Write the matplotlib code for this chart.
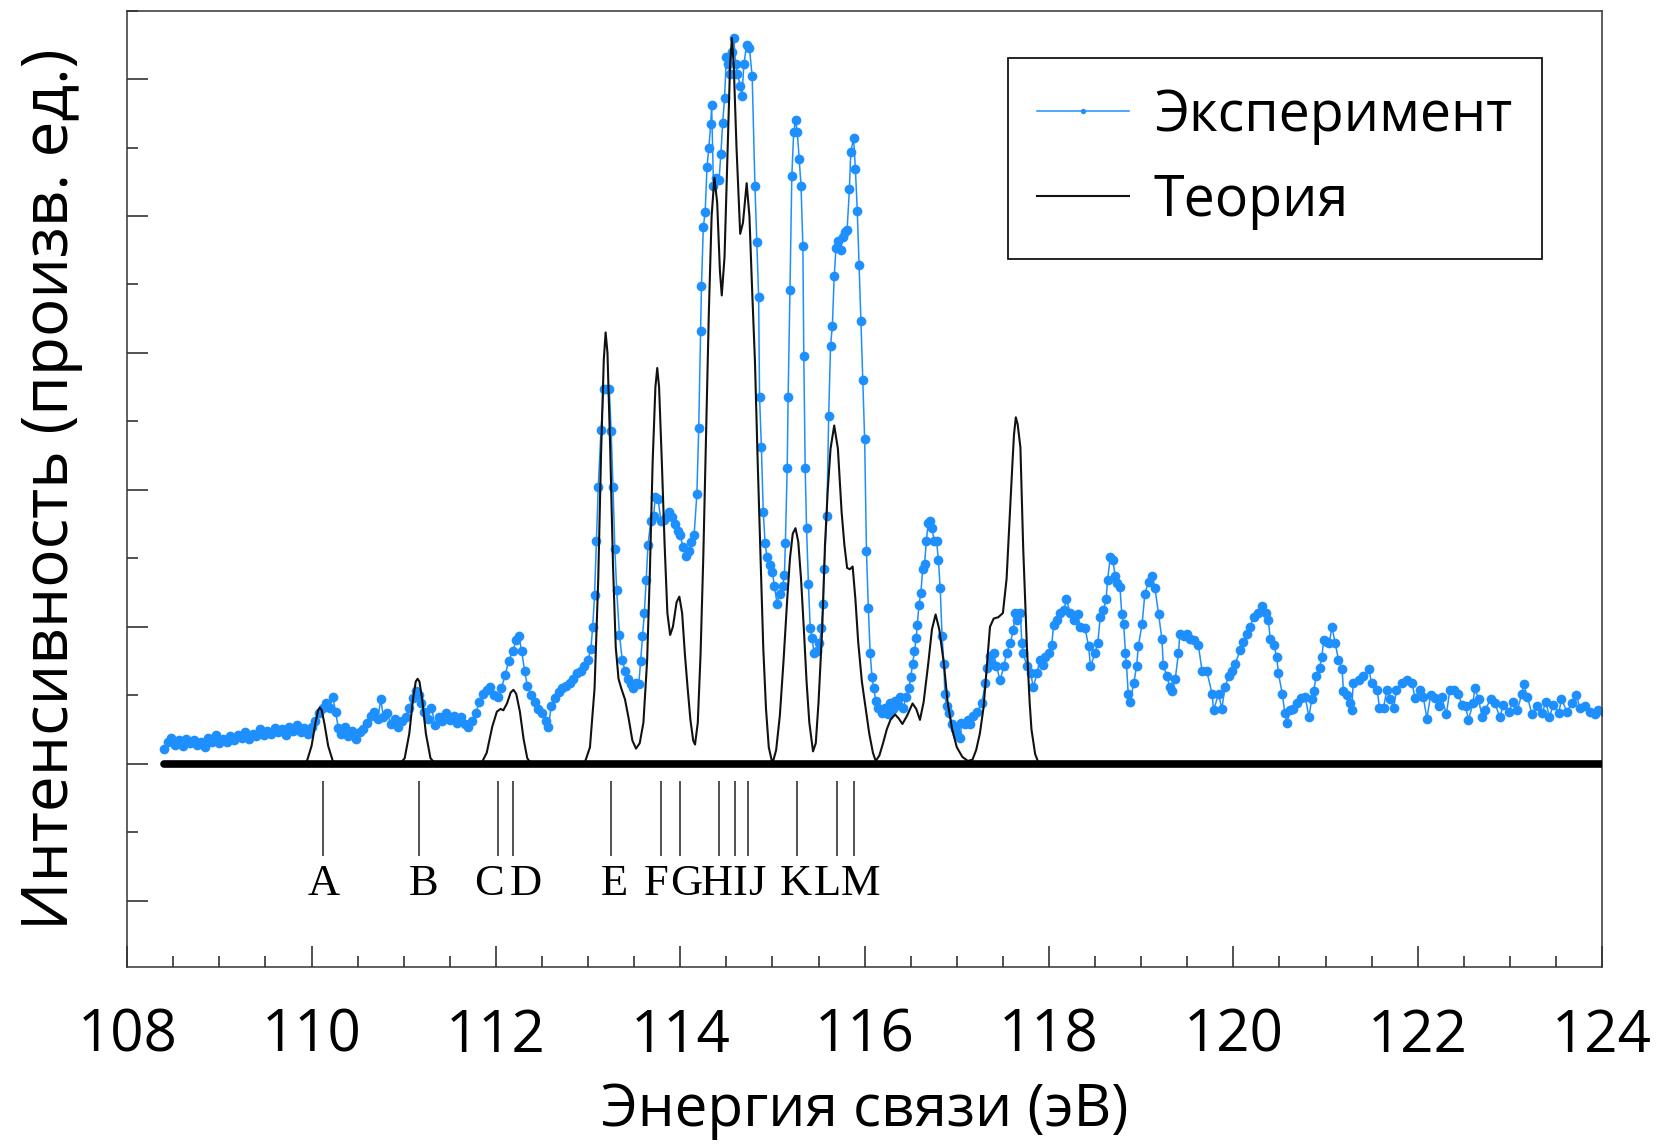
import matplotlib

matplotlib.use("Agg")
import matplotlib.pyplot as plt
import numpy as np
from matplotlib.ticker import MultipleLocator

plt.rcParams["font.family"] = ["Open Sans", "DejaVu Sans"]

# experimental spectrum (binding energy, eV / intensity, arb. units)
exp_energy = [
    108.40, 108.44, 108.48, 108.52, 108.56, 108.60, 108.64, 108.68, 108.72, 108.76,
    108.80, 108.84, 108.88, 108.92, 108.96, 109.00, 109.04, 109.08, 109.12, 109.16,
    109.20, 109.24, 109.28, 109.32, 109.36, 109.40, 109.44, 109.48, 109.52, 109.56,
    109.60, 109.64, 109.68, 109.72, 109.76, 109.80, 109.84, 109.88, 109.92, 109.96,
    110.00, 110.04, 110.08, 110.12, 110.16, 110.20, 110.23, 110.26, 110.29, 110.32,
    110.36, 110.40, 110.44, 110.48, 110.52, 110.56, 110.60, 110.64, 110.68, 110.72,
    110.75, 110.78, 110.82, 110.86, 110.90, 110.94, 110.98, 111.02, 111.06, 111.10,
    111.13, 111.16, 111.19, 111.22, 111.26, 111.30, 111.34, 111.38, 111.42, 111.46,
    111.50, 111.54, 111.58, 111.62, 111.66, 111.70, 111.74, 111.78, 111.82, 111.86,
    111.90, 111.94, 111.98, 112.02, 112.06, 112.10, 112.14, 112.18, 112.22, 112.25,
    112.28, 112.31, 112.34, 112.38, 112.42, 112.46, 112.50, 112.54, 112.57, 112.60,
    112.64, 112.68, 112.72, 112.76, 112.80, 112.84, 112.88, 112.92, 112.96, 113.00,
    113.03, 113.05, 113.07, 113.09, 113.11, 113.14, 113.17, 113.20, 113.23, 113.25,
    113.27, 113.29, 113.31, 113.34, 113.37, 113.40, 113.43, 113.46, 113.49, 113.52,
    113.55, 113.57, 113.59, 113.61, 113.63, 113.65, 113.68, 113.71, 113.73, 113.76,
    113.79, 113.82, 113.85, 113.88, 113.91, 113.94, 113.97, 114.00, 114.03, 114.06,
    114.09, 114.12, 114.15, 114.18, 114.20, 114.22, 114.23, 114.25, 114.27, 114.29,
    114.31, 114.33, 114.34, 114.36, 114.39, 114.42, 114.44, 114.46, 114.48, 114.50,
    114.52, 114.54, 114.56, 114.58, 114.60, 114.62, 114.65, 114.67, 114.69, 114.72,
    114.75, 114.78, 114.81, 114.83, 114.85, 114.86, 114.88, 114.90, 114.92, 114.94,
    114.97, 115.00, 115.02, 115.05, 115.08, 115.11, 115.13, 115.14, 115.16, 115.17,
    115.19, 115.21, 115.23, 115.25, 115.27, 115.29, 115.31, 115.33, 115.34, 115.355,
    115.37, 115.39, 115.41, 115.43, 115.45, 115.48, 115.51, 115.53, 115.55, 115.56,
    115.59, 115.61, 115.63, 115.65, 115.67, 115.69, 115.715, 115.74, 115.76, 115.79,
    115.81, 115.835, 115.85, 115.88, 115.90, 115.92, 115.94, 115.96, 115.98, 116.00,
    116.02, 116.04, 116.06, 116.08, 116.10, 116.12, 116.15, 116.19, 116.22, 116.25,
    116.28, 116.31, 116.33, 116.36, 116.38, 116.42, 116.45, 116.48, 116.50, 116.52,
    116.54, 116.56, 116.57, 116.59, 116.61, 116.63, 116.65, 116.67, 116.69, 116.71,
    116.73, 116.755, 116.78, 116.80, 116.82, 116.84, 116.86, 116.87, 116.89, 116.91,
    116.95, 116.98, 117.00, 117.04, 117.05, 117.09, 117.12, 117.14, 117.18, 117.22,
    117.27, 117.31, 117.33, 117.36, 117.38, 117.40, 117.43, 117.47, 117.51, 117.54,
    117.58, 117.615, 117.63, 117.65, 117.69, 117.705, 117.72, 117.76, 117.80, 117.83,
    117.87, 117.90, 117.93, 117.96, 117.995, 118.03, 118.05, 118.085, 118.12, 118.16,
    118.19, 118.23, 118.27, 118.31, 118.34, 118.39, 118.43, 118.45, 118.50, 118.53,
    118.555, 118.59, 118.62, 118.635, 118.665, 118.69, 118.72, 118.735, 118.77, 118.79,
    118.81, 118.83, 118.84, 118.86, 118.88, 118.92, 118.95, 118.97, 119.01, 119.04,
    119.08, 119.12, 119.15, 119.19, 119.225, 119.24, 119.28, 119.31, 119.33, 119.37,
    119.405, 119.42, 119.46, 119.495, 119.53, 119.57, 119.62, 119.66, 119.71, 119.77,
    119.785, 119.84, 119.875, 119.91, 119.95, 119.985, 120.02, 120.075, 120.11, 120.15,
    120.18, 120.22, 120.27, 120.31, 120.35, 120.38, 120.40, 120.44, 120.47, 120.49,
    120.53, 120.56, 120.58, 120.62, 120.65, 120.69, 120.73, 120.78, 120.82, 120.85,
    120.87, 120.90, 120.935, 120.96, 120.98, 121.015, 121.04, 121.07, 121.105, 121.14,
    121.18, 121.195, 121.23, 121.27, 121.285, 121.30, 121.36, 121.41, 121.47, 121.50,
    121.56, 121.585, 121.63, 121.665, 121.70, 121.74, 121.77, 121.83, 121.88, 121.94,
    121.97, 122.03, 122.06, 122.10, 122.14, 122.19, 122.23, 122.26, 122.31, 122.35,
    122.39, 122.44, 122.48, 122.52, 122.55, 122.60, 122.62, 122.66, 122.70, 122.73,
    122.79, 122.84, 122.89, 122.93, 122.99, 123.03, 123.08, 123.13, 123.15, 123.19,
    123.24, 123.29, 123.35, 123.39, 123.43, 123.47, 123.53, 123.56, 123.62, 123.67,
    123.72, 123.76, 123.82, 123.87, 123.92, 123.96, 124.02,
]
exp_intensity = [
    0.11, 0.16, 0.19, 0.14, 0.17, 0.13, 0.18, 0.15, 0.17, 0.14,
    0.16, 0.12, 0.19, 0.16, 0.21, 0.15, 0.18, 0.16, 0.20, 0.17,
    0.21, 0.19, 0.23, 0.18, 0.22, 0.20, 0.25, 0.21, 0.24, 0.22,
    0.26, 0.23, 0.25, 0.21, 0.27, 0.24, 0.28, 0.23, 0.26, 0.22,
    0.27, 0.31, 0.37, 0.41, 0.44, 0.41, 0.49, 0.38, 0.26, 0.22,
    0.27, 0.20, 0.24, 0.18, 0.23, 0.25, 0.30, 0.35, 0.38, 0.33,
    0.47, 0.34, 0.37, 0.29, 0.33, 0.27, 0.31, 0.34, 0.41, 0.48,
    0.53, 0.50, 0.44, 0.38, 0.33, 0.41, 0.28, 0.34, 0.31, 0.37,
    0.32, 0.35, 0.30, 0.34, 0.29, 0.27, 0.31, 0.37, 0.45, 0.51,
    0.54, 0.56, 0.50, 0.49, 0.55, 0.65, 0.75, 0.82, 0.90, 0.93,
    0.82, 0.68, 0.57, 0.50, 0.45, 0.40, 0.37, 0.31, 0.27, 0.42,
    0.48, 0.52, 0.55, 0.57, 0.59, 0.62, 0.66, 0.68, 0.71, 0.76,
    0.84, 1.00, 1.23, 1.63, 2.02, 2.44, 2.74, 2.74, 2.74, 2.43,
    2.02, 1.57, 1.27, 0.94, 0.76, 0.68, 0.62, 0.58, 0.55, 0.59,
    0.58, 0.75, 0.93, 1.10, 1.34, 1.60, 1.77, 1.81, 1.95, 1.93,
    1.77, 1.78, 1.80, 1.84, 1.80, 1.75, 1.70, 1.67, 1.58, 1.52,
    1.55, 1.62, 1.67, 1.97, 2.45, 3.16, 3.49, 3.92, 4.03, 4.36,
    4.50, 4.67, 4.81, 4.22, 4.28, 4.26, 4.45, 4.68, 4.86, 5.16,
    5.11, 5.04, 5.20, 5.30, 5.11, 5.04, 4.95, 4.88, 5.11, 5.25,
    5.23, 5.02, 4.22, 3.81, 3.41, 2.68, 2.31, 1.84, 1.61, 1.51,
    1.45, 1.40, 1.30, 1.17, 1.24, 1.30, 1.38, 1.61, 2.16, 2.68,
    3.46, 4.29, 4.61, 4.70, 4.61, 4.42, 4.22, 3.78, 2.98, 2.16,
    1.72, 1.31, 0.99, 0.92, 0.81, 0.82, 0.88, 0.99, 1.17, 1.42,
    1.81, 2.54, 3.05, 3.20, 3.56, 3.77, 3.82, 3.75, 3.85, 3.88,
    3.90, 4.20, 4.47, 4.57, 4.34, 4.04, 3.64, 3.23, 2.80, 2.37,
    1.55, 1.14, 0.81, 0.63, 0.55, 0.46, 0.41, 0.37, 0.41, 0.36,
    0.44, 0.40, 0.46, 0.43, 0.49, 0.41, 0.49, 0.55, 0.63, 0.73,
    0.82, 0.92, 1.01, 1.16, 1.25, 1.42, 1.46, 1.63, 1.76, 1.77,
    1.72, 1.63, 1.63, 1.49, 1.28, 0.93, 0.73, 0.51, 0.42, 0.37,
    0.29, 0.25, 0.22, 0.19, 0.30, 0.29, 0.32, 0.29, 0.35, 0.38,
    0.44, 0.59, 0.70, 0.79, 0.73, 0.81, 0.71, 0.61, 0.71, 0.81,
    0.88, 0.98, 1.10, 1.05, 1.10, 0.88, 0.81, 0.71, 0.66, 0.56,
    0.66, 0.76, 0.72, 0.78, 0.81, 0.87, 1.01, 1.05, 1.10, 1.12,
    1.20, 1.10, 1.05, 1.09, 1.00, 0.99, 0.86, 0.71, 0.81, 0.88,
    1.07, 1.12, 1.20, 1.34, 1.51, 1.49, 1.37, 1.32, 1.29, 1.09,
    1.02, 0.81, 0.73, 0.51, 0.45, 0.59, 0.71, 0.86, 1.02, 1.24,
    1.33, 1.37, 1.28, 1.09, 0.91, 0.72, 0.64, 0.56, 0.53, 0.62,
    0.81, 0.95, 0.93, 0.95, 0.91, 0.90, 0.87, 0.68, 0.68, 0.51,
    0.39, 0.51, 0.40, 0.56, 0.64, 0.68, 0.73, 0.83, 0.89, 0.95,
    1.00, 1.07, 1.10, 1.15, 1.10, 1.05, 0.91, 0.87, 0.78, 0.66,
    0.51, 0.37, 0.30, 0.39, 0.40, 0.44, 0.48, 0.49, 0.34, 0.47,
    0.53, 0.64, 0.70, 0.78, 0.90, 0.89, 0.88, 1.00, 0.88, 0.76,
    0.69, 0.53, 0.50, 0.44, 0.39, 0.59, 0.61, 0.64, 0.69, 0.59,
    0.54, 0.41, 0.41, 0.54, 0.47, 0.41, 0.54, 0.59, 0.61, 0.59,
    0.48, 0.54, 0.49, 0.33, 0.50, 0.48, 0.42, 0.49, 0.36, 0.54,
    0.54, 0.51, 0.43, 0.42, 0.32, 0.44, 0.55, 0.47, 0.34, 0.39,
    0.47, 0.44, 0.34, 0.43, 0.38, 0.45, 0.39, 0.51, 0.58, 0.49,
    0.36, 0.42, 0.37, 0.45, 0.34, 0.43, 0.37, 0.47, 0.38, 0.44,
    0.50, 0.41, 0.42, 0.38, 0.36, 0.39, 0.38,
]

# calculated spectrum
theory_energy = [
    108.40, 109.90, 109.95, 110.00, 110.04, 110.07, 110.09, 110.11, 110.14, 110.18,
    110.23, 110.28, 110.96, 111.01, 111.06, 111.10, 111.13, 111.15, 111.17, 111.20,
    111.24, 111.29, 111.34, 111.84, 111.90, 111.96, 112.01, 112.05, 112.08, 112.12,
    112.16, 112.19, 112.22, 112.26, 112.30, 112.34, 112.38, 112.96, 113.02, 113.07,
    113.11, 113.14, 113.17, 113.19, 113.21, 113.24, 113.27, 113.30, 113.33, 113.36,
    113.40, 113.44, 113.48, 113.52, 113.56, 113.60, 113.64, 113.67, 113.70, 113.73,
    113.75, 113.77, 113.80, 113.83, 113.86, 113.89, 113.92, 113.96, 113.99, 114.02,
    114.05, 114.08, 114.11, 114.14, 114.16, 114.19, 114.22, 114.25, 114.28, 114.31,
    114.34, 114.37, 114.40, 114.43, 114.45, 114.48, 114.51, 114.54, 114.56, 114.58,
    114.61, 114.65, 114.68, 114.72, 114.75, 114.78, 114.81, 114.84, 114.87, 114.90,
    114.93, 114.96, 115.00, 115.04, 115.08, 115.12, 115.16, 115.19, 115.22, 115.25,
    115.28, 115.31, 115.34, 115.37, 115.40, 115.44, 115.47, 115.50, 115.54, 115.57,
    115.60, 115.63, 115.67, 115.71, 115.75, 115.78, 115.81, 115.84, 115.87, 115.90,
    115.93, 115.97, 116.01, 116.05, 116.09, 116.12, 116.16, 116.20, 116.24, 116.28,
    116.33, 116.37, 116.41, 116.46, 116.52, 116.56, 116.60, 116.64, 116.69, 116.73,
    116.77, 116.81, 116.86, 116.90, 116.95, 117.00, 117.06, 117.12, 117.17, 117.21,
    117.25, 117.29, 117.33, 117.36, 117.40, 117.45, 117.50, 117.54, 117.57, 117.60,
    117.62, 117.64, 117.66, 117.69, 117.72, 117.76, 117.79, 117.81, 117.85, 117.89,
    124.02,
]
theory_intensity = [
    0.00, 0.00, 0.02, 0.13, 0.29, 0.39, 0.41, 0.39, 0.29, 0.13,
    0.02, 0.00, 0.00, 0.04, 0.22, 0.47, 0.60, 0.62, 0.60, 0.47,
    0.22, 0.04, 0.00, 0.00, 0.08, 0.27, 0.38, 0.40, 0.39, 0.44,
    0.52, 0.54, 0.51, 0.38, 0.18, 0.04, 0.00, 0.00, 0.12, 0.55,
    1.35, 2.25, 2.95, 3.15, 3.00, 2.30, 1.45, 0.85, 0.62, 0.55,
    0.47, 0.33, 0.17, 0.11, 0.15, 0.30, 0.75, 1.40, 2.20, 2.75,
    2.89, 2.75, 2.20, 1.60, 1.10, 0.94, 1.00, 1.18, 1.22, 1.10,
    0.80, 0.55, 0.32, 0.17, 0.14, 0.30, 0.80, 1.52, 2.40, 3.30,
    4.00, 4.28, 4.10, 3.60, 3.42, 3.70, 4.40, 5.10, 5.30, 5.10,
    4.50, 3.87, 3.95, 4.24, 4.00, 3.45, 2.94, 2.20, 1.52, 0.85,
    0.40, 0.12, 0.00, 0.10, 0.35, 0.75, 1.20, 1.50, 1.68, 1.72,
    1.62, 1.35, 0.99, 0.60, 0.30, 0.09, 0.15, 0.45, 0.99, 1.60,
    2.00, 2.30, 2.47, 2.30, 1.84, 1.60, 1.43, 1.42, 1.44, 1.20,
    0.89, 0.60, 0.41, 0.22, 0.08, 0.02, 0.06, 0.15, 0.25, 0.32,
    0.36, 0.33, 0.29, 0.35, 0.44, 0.40, 0.32, 0.45, 0.73, 0.98,
    1.09, 0.98, 0.73, 0.45, 0.25, 0.12, 0.05, 0.02, 0.03, 0.10,
    0.22, 0.41, 0.75, 1.00, 1.06, 1.07, 1.10, 1.35, 1.75, 2.15,
    2.40, 2.53, 2.48, 2.31, 1.58, 0.86, 0.45, 0.25, 0.07, 0.00,
    0.00,
]

# assigned lines and their letters
line_names = ["A", "B", "C", "D", "E", "F", "G", "H", "I", "J", "K", "L", "M"]
line_energy = [110.12, 111.17, 112.02, 112.19, 113.25, 113.79, 114.00,
               114.42, 114.59, 114.74, 115.27, 115.70, 115.89]
label_energy = [110.13, 111.22, 111.93, 112.32, 113.28, 113.74, 114.06,
                114.40, 114.65, 114.83, 115.25, 115.60, 115.96]

assert len(exp_energy) == len(exp_intensity)
assert len(theory_energy) == len(theory_intensity)

BLUE = "#1E8FFF"

fig = plt.figure(figsize=(16.61, 11.44), dpi=100)
ax = fig.add_axes([0.0766, 0.1547, 0.8879, 0.836])

ax.plot(exp_energy, exp_intensity, "-o", color=BLUE, lw=1.1, ms=7,
        mew=0, label="Эксперимент", zorder=2)
ax.plot(theory_energy, theory_intensity, "-", color="#111111", lw=1.5,
        label="Теория", zorder=3)
# zero line of the calculated spectrum
ax.plot([exp_energy[0], exp_energy[-1]], [0, 0], color="black", lw=5.5,
        solid_capstyle="round", zorder=4)

ax.vlines(line_energy, -0.673, -0.124, color="#222222", lw=1.1)
for name, x in zip(line_names, label_energy):
    ax.text(x, -0.88, name, ha="center", va="center", fontsize=32,
            family="Liberation Serif", color="black")

ax.set_xlim(108, 124)
ax.set_ylim(-1.485, 5.5)
ax.xaxis.set_major_locator(MultipleLocator(2))
ax.xaxis.set_minor_locator(MultipleLocator(0.5))
ax.yaxis.set_major_locator(MultipleLocator(1))
ax.yaxis.set_minor_locator(MultipleLocator(0.5))
ax.tick_params(axis="both", which="both", direction="in", top=False, right=False,
               color="#222222")
ax.tick_params(axis="both", which="major", length=15, width=1.1)
ax.tick_params(axis="both", which="minor", length=8, width=1.1)
ax.tick_params(axis="x", labelsize=42, pad=29)
ax.tick_params(axis="y", labelleft=False)
for sp in ax.spines.values():
    sp.set_linewidth(1.1)
    sp.set_color("#333333")

ax.set_xlabel("Энергия связи (эВ)", fontsize=42)
ax.xaxis.label.set_verticalalignment("center")
ax.xaxis.set_label_coords(0.5, -0.150)
ax.set_ylabel("Интенсивность (произв. ед.)", fontsize=46)
ax.yaxis.label.set_verticalalignment("center")
ax.yaxis.set_label_coords(-0.052, 0.5)

leg = ax.legend(loc="upper right", bbox_to_anchor=(0.959, 0.950), borderaxespad=0,
                fontsize=40, fancybox=False, edgecolor="black", framealpha=1,
                handlelength=1.65, handletextpad=0.45, labelspacing=0.5,
                borderpad=0.53, markerscale=0.55)
leg.get_frame().set_linewidth(1.2)

fig.savefig("out.png", dpi=100)
